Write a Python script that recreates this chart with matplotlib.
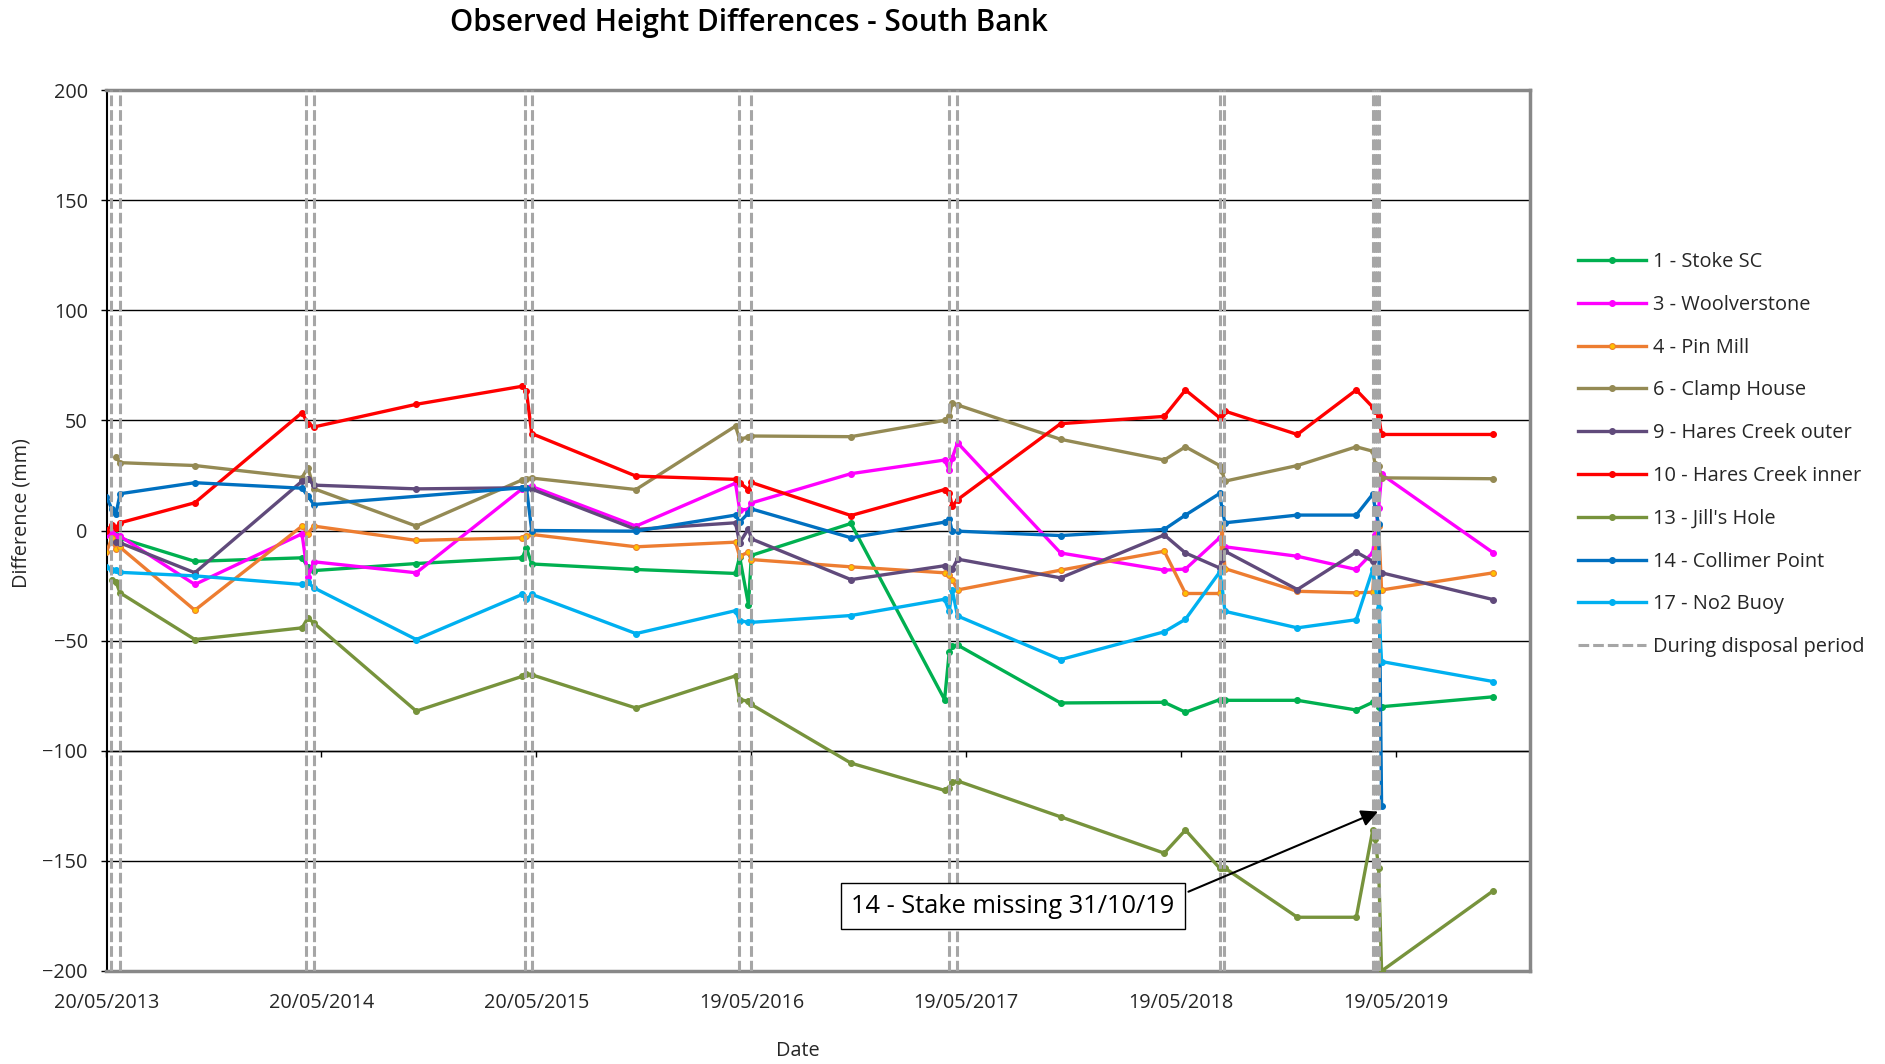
import numpy as np
import pandas as pd
import matplotlib
matplotlib.use("Agg")
import matplotlib.pyplot as plt
import matplotlib.dates as mdates
from matplotlib.lines import Line2D

plt.rcParams['font.family'] = ['Open Sans', 'DejaVu Sans']

# Survey dates shared by all stakes
survey_dates = [
    '2013-05-20', '2013-05-29', '2013-06-05', '2013-06-12',
    '2013-10-17',
    '2014-04-17', '2014-04-27', '2014-05-07',
    '2014-10-28',
    '2015-04-26', '2015-05-03', '2015-05-12',
    '2015-11-05',
    '2016-04-22', '2016-04-29', '2016-05-14', '2016-05-19',
    '2016-11-04',
    '2017-04-12', '2017-04-20', '2017-04-25', '2017-05-04',
    '2017-10-26',
    '2018-04-20', '2018-05-26',
    '2018-07-23', '2018-07-27', '2018-08-01',
    '2018-12-02',
    '2019-03-12',
    '2019-04-09', '2019-04-13', '2019-04-19', '2019-04-24',
    '2019-10-31',
]

N = None
stoke_sc = [N, N, -2, -3.5, -14, -12.4, -16.5, -18.2, -15, -12.4, -7.9, -15.2, -17.7,
            -19.5, -12, -33.6, -11.3, 3.2, -76.8, -55, -52.5, -52, -78.3, -78, -82.5,
            -76.8, -76.8, -77.1, -77.1, -81.5, -78, -78, -80, -80, -75.5]
woolverstone = [-2, -1, -2.5, -2.6, -24.5, -1.5, -21, -14.2, -19.2, 19, 19.5, 20, 2,
                21.5, 9.5, 9.5, 12.5, 25.8, 32, 27.5, 33, 39.8, -10.2, -18, -17.5,
                -3.3, -5, -7.4, -11.7, -17.7, -10, -2, 10, 25.5, -10.2]
pin_mill = [-9.7, -3.6, -8.6, -7.6, -36.2, 2, -1.4, 2, -4.5, -3.3, -2.5, -1.8, -7.4,
            -5.3, -11.7, -9.8, -13.2, -16.5, -19.2, -20, -22.3, -27, -18, -9.4, -28.6,
            -28.6, 2, -17.3, -27.6, -28.3, -28, -10, 2, -27, -19.2]
clamp_house = [N, N, 33.3, 30.8, 29.5, 24, 28.6, 19, 2, 23, 23.6, 23.8, 18.6,
               47.4, 41.4, 42.5, 42.9, 42.6, 50, 52, 58, 57, 41.4, 32, 38,
               29.5, 27, 22.4, 29.5, 38, 36, 30, 29.5, 23.9, 23.5]
hares_outer = [N, N, -5.3, -5.6, -19.2, 22.4, 23.6, 20.6, 18.9, 19.4, 19.4, 18.8, 0.5,
               3.5, -5.6, 0.8, -3.8, -22.3, -16, -17, -17.5, -13, -21.5, -2, -10.2,
               -17, -13, -9.4, -26.8, -9.8, -14, -17.7, -19, -19.2, -31.4]
hares_inner = [0, 2.4, 1.2, 3.5, 12.6, 53.5, 48.5, 47, 57.3, 65.5, 63.3, 44, 24.7,
               23.2, 21.7, 18.5, 21.8, 6.8, 18.6, 17, 11, 14, 48.5, 51.8, 63.8,
               51.2, 53, 54.2, 43.6, 63.8, 56, 54.2, 52, 43.6, 43.6]
jills_hole = [N, -22.3, -23.3, -28.3, -49.5, -44.2, -39.7, -42, -82, -66.2, -65, -65.5, -80.6,
              -66, -76.8, -77.5, -79, -105.6, -118, -117, -114, -113.7, -130, -146.5, -136,
              -153.3, -153.3, -153.3, -175.6, -175.6, -136, -140, -153.3, -200, -163.5]
collimer_point = [15.3, 9.8, 7.3, 16.7, 21.7, 19.2, 15.6, 11.8, N, 19.4, 19.4, 0, -0.3,
                  7, 3.8, 8, 9.8, -3.3, 3.8, 5, -0.3, -0.3, -2.3, 0.5, 7,
                  16.8, 10, 3.5, 7, 7, 16.5, 10, 3, -125, N]
no2_buoy = [-16.5, -18, -18, -19, -20.6, -24.5, -23.5, -26, -49.5, -29, -31.3, -29, -46.8,
            -36.4, -40.9, -41.7, -41.7, -38.6, -31.2, -36.5, -27, -38.8, -58.6, -46, -40.3,
            -18.9, -25, -36.7, -44.2, -40.5, -17.7, -25, -35, -59.5, -68.6]

series_names = ['1 - Stoke SC', '3 - Woolverstone', '4 - Pin Mill', '6 - Clamp House',
                '9 - Hares Creek outer', '10 - Hares Creek inner', "13 - Jill's Hole",
                '14 - Collimer Point', '17 - No2 Buoy']
series_values = [stoke_sc, woolverstone, pin_mill, clamp_house, hares_outer,
                 hares_inner, jills_hole, collimer_point, no2_buoy]
series_colors = ['#00B050', '#FF00FF', '#ED7D31', '#948A54', '#604A7B',
                 '#FF0000', '#77933C', '#0070C0', '#00B0F0']
marker_faces = ['#00B050', '#FF00FF', '#FFC000', '#948A54', '#604A7B',
                '#FF0000', '#77933C', '#0070C0', '#00B0F0']

# Dates of the disposal period markers
disposal_dates = ['2013-05-27', '2013-06-12', '2014-04-24', '2014-05-08',
                  '2015-05-01', '2015-05-12', '2016-04-28', '2016-05-19',
                  '2017-04-19', '2017-05-03', '2018-07-23', '2018-07-31',
                  '2019-04-09', '2019-04-13', '2019-04-17', '2019-04-19']

y_ticks = [-200, -150, -100, -50, 0, 50, 100, 150, 200]
x_start = '2013-05-20'
x_end = '2020-01-01'

TEXT = '#262626'
dates = pd.to_datetime(survey_dates)

fig = plt.figure(figsize=(18.85, 10.64), dpi=100)
ax = fig.add_axes([106.5 / 1885, 1 - 971 / 1064, (1530 - 106.5) / 1885, (971 - 90) / 1064])

ax.set_ylim(-200, 200)
ax.set_xlim(pd.Timestamp(x_start), pd.Timestamp(x_end))

for yv in y_ticks[1:-1]:
    ax.axhline(yv, color='black', lw=1.0, zorder=1)

for name, vals, col, mfc in zip(series_names, series_values, series_colors, marker_faces):
    s = pd.Series(vals, index=dates, dtype=float).dropna()
    ax.plot(s.index, s.values, color=col, lw=2.4, marker='o', markersize=4.2,
            markerfacecolor=mfc, markeredgecolor=col, markeredgewidth=0.8,
            label=name, zorder=3)

for d in pd.to_datetime(disposal_dates):
    ax.plot([d, d], [-200, 200], color='#A6A6A6', lw=2.2, dashes=(3.5, 1.3),
            dash_capstyle='butt', zorder=4)

# Axis styling
tick_dates = pd.date_range(x_start, periods=7, freq='365D')
ax.set_xticks(tick_dates)
ax.xaxis.set_major_formatter(mdates.DateFormatter('%d/%m/%Y'))
ax.tick_params(axis='x', length=0, pad=16, labelsize=14.3, colors=TEXT)
ax.set_yticks(y_ticks)
ax.tick_params(axis='y', direction='out', length=4.5, width=1, pad=9, labelsize=14.3,
               colors='black', labelcolor=TEXT)

for side in ['top', 'right', 'bottom']:
    ax.spines[side].set_color('#888888')
    ax.spines[side].set_linewidth(2.5)
ax.spines['left'].set_color('black')
ax.spines['left'].set_linewidth(1.5)

# Horizontal axis line crossing at -100 with outward ticks
sec = ax.secondary_xaxis(0.25)
sec.set_xticks(tick_dates)
sec.tick_params(axis='x', direction='out', length=4, width=1, labelbottom=False,
                labeltop=False, colors='black')
sec.spines['bottom'].set_visible(True)
sec.spines['bottom'].set_color('black')
sec.spines['bottom'].set_linewidth(1.0)
sec.xaxis.set_ticks_position('bottom')
sec.set_xticklabels([])

fig.text(749 / 1885, 1 - 23 / 1064, 'Observed Height Differences - South Bank',
         ha='center', va='center', fontsize=21.3, fontweight='semibold', color='black')
fig.text(21 / 1885, 1 - 513 / 1064, 'Difference (mm)', rotation=90,
         ha='center', va='center', fontsize=14.3, color=TEXT)
fig.text(798 / 1885, 1 - 1051 / 1064, 'Date', ha='center', va='center',
         fontsize=14.3, color=TEXT)

# Note about the missing stake
ax.text(pd.Timestamp('2017-08-06'), -170.5, '14 - Stake missing 31/10/19',
        ha='center', va='center', fontsize=18.3, color='black', zorder=6,
        bbox=dict(boxstyle='square,pad=0.42', fc='white', ec='black', lw=1.0))
ax.annotate('', xy=(pd.Timestamp('2019-04-18'), -127.6),
            xytext=(pd.Timestamp('2018-05-31'), -164),
            arrowprops=dict(arrowstyle='-|>', color='black', lw=1.5,
                            mutation_scale=25, shrinkA=0, shrinkB=0), zorder=6)

handles, labels = ax.get_legend_handles_labels()
handles.append(Line2D([], [], color='#A6A6A6', lw=2.2, dashes=(3.5, 1.3),
                      dash_capstyle='butt'))
labels.append('During disposal period')
fig.legend(handles, labels, loc='upper left', bbox_to_anchor=(1578 / 1885, 1 - 252 / 1064),
           frameon=False, fontsize=14.4, handlelength=3.4, handletextpad=0.35,
           labelspacing=1.14, borderaxespad=0, borderpad=0, labelcolor=TEXT)

fig.savefig('out.png', dpi=100)
